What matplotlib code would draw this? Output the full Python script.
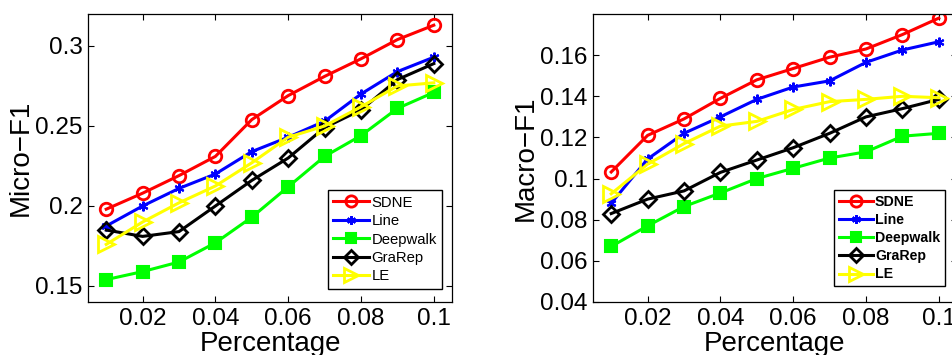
import numpy as np
import matplotlib
matplotlib.use("Agg")
import matplotlib.pyplot as plt

plt.rcParams['font.family'] = ['Liberation Sans', 'DejaVu Sans']

pct = [0.01, 0.02, 0.03, 0.04, 0.05, 0.06, 0.07, 0.08, 0.09, 0.10]
methods = ['SDNE', 'Line', 'Deepwalk', 'GraRep', 'LE']

micro_sdne = [0.198, 0.208, 0.219, 0.231, 0.254, 0.269, 0.281, 0.292, 0.304, 0.313]
micro_line = [0.1875, 0.200, 0.211, 0.220, 0.234, 0.243, 0.253, 0.270, 0.284, 0.293]
micro_deepwalk = [0.154, 0.159, 0.165, 0.177, 0.193, 0.212, 0.231, 0.244, 0.261, 0.271]
micro_grarep = [0.185, 0.181, 0.184, 0.200, 0.216, 0.230, 0.249, 0.260, 0.279, 0.289]
micro_le = [0.176, 0.190, 0.202, 0.2125, 0.227, 0.243, 0.250, 0.262, 0.275, 0.277]

macro_sdne = [0.1032, 0.121, 0.129, 0.139, 0.148, 0.1535, 0.159, 0.163, 0.170, 0.178]
macro_line = [0.088, 0.1095, 0.122, 0.130, 0.1385, 0.1445, 0.1475, 0.1565, 0.1625, 0.1665]
macro_deepwalk = [0.067, 0.077, 0.0864, 0.093, 0.100, 0.105, 0.110, 0.113, 0.1206, 0.122]
macro_grarep = [0.083, 0.090, 0.094, 0.103, 0.109, 0.115, 0.122, 0.130, 0.134, 0.1385]
macro_le = [0.0926, 0.107, 0.117, 0.1255, 0.1278, 0.1336, 0.1374, 0.1385, 0.140, 0.1393]

xticks = [0.02, 0.04, 0.06, 0.08, 0.1]
xtick_labels = ['0.02', '0.04', '0.06', '0.08', '0.1']
micro_yticks = [0.15, 0.2, 0.25, 0.3]
micro_ylabels = ['0.15', '0.2', '0.25', '0.3']
macro_yticks = [0.04, 0.06, 0.08, 0.1, 0.12, 0.14, 0.16]
macro_ylabels = ['0.04', '0.06', '0.08', '0.1', '0.12', '0.14', '0.16']

styles = [
    dict(color='#ff0000', marker='o', mfc='none', ms=9, mew=2),
    dict(color='#0000ff', marker=(6, 2, 0), mfc='none', ms=7, mew=1.5),
    dict(color='#00ff00', marker='s', mfc='#00ff00', ms=8, mew=1.5),
    dict(color='#000000', marker='D', mfc='none', ms=8, mew=2),
    dict(color='#ffff00', marker='>', mfc='none', ms=11, mew=2),
]

fig = plt.figure(figsize=(9.53, 3.55), dpi=100)
W, H = 953.0, 355.0


def make_axes(x0, x1, y0, y1):
    return fig.add_axes([x0 / W, 1 - y1 / H, (x1 - x0) / W, (y1 - y0) / H])


def draw(ax, series, ylim, yticks, ylabels, ylabel, bold_legend, leg_box, leg_size):
    for name, vals, st in zip(methods, series, styles):
        ax.plot(pct, vals, label=name, lw=2.2, **st)
    ax.set_xlim(0.005, 0.105)
    ax.set_ylim(*ylim)
    ax.set_xticks(xticks)
    ax.set_xticklabels(xtick_labels)
    ax.set_yticks(yticks)
    ax.set_yticklabels(ylabels)
    ax.tick_params(direction='in', top=True, right=True, labelsize=17.5, length=4, width=0.8, pad=4)
    for sp in ax.spines.values():
        sp.set_linewidth(0.9)
    ax.set_xlabel('Percentage', fontsize=20, labelpad=1)
    ax.set_ylabel(ylabel, fontsize=20, labelpad=1)
    x0, y0, x1, y1 = leg_box
    leg = ax.legend(loc='center', bbox_to_anchor=(x0 / W, 1 - y1 / H, (x1 - x0) / W, (y1 - y0) / H),
                    bbox_transform=fig.transFigure,
                    frameon=True, fancybox=False, edgecolor='black', framealpha=1,
                    prop=dict(size=leg_size, weight='bold' if bold_legend else 'normal'),
                    handlelength=2.4, handletextpad=0.15, labelspacing=0.3,
                    borderpad=0.35, borderaxespad=0, markerscale=0.9)
    leg.get_frame().set_linewidth(1.0)


ax1 = make_axes(88, 452, 14, 302)
draw(ax1, [micro_sdne, micro_line, micro_deepwalk, micro_grarep, micro_le],
     (0.14, 0.32), micro_yticks, micro_ylabels, 'Micro\u2212F1', False,
     (328, 192, 442, 287), 10.7)

ax2 = make_axes(593, 957, 14, 302)
draw(ax2, [macro_sdne, macro_line, macro_deepwalk, macro_grarep, macro_le],
     (0.04, 0.18), macro_yticks, macro_ylabels, 'Macro\u2212F1', True,
     (831, 188, 948, 288), 10.2)

fig.savefig('out.png', dpi=100)
